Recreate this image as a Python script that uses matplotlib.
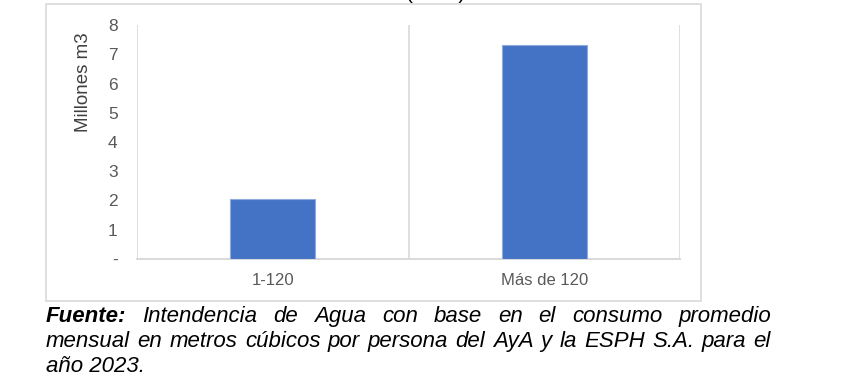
import matplotlib
matplotlib.use('Agg')
import matplotlib.pyplot as plt
from matplotlib.patches import Rectangle

# data
categorias = ['1-120', 'Más de 120']
consumo = [2.05, 7.32]   # millones de m3
yticks = [0, 1, 2, 3, 4, 5, 6, 7, 8]
ytick_labels = ['-', '1', '2', '3', '4', '5', '6', '7', '8']

fuente_lineas = [
    ['Intendencia', 'de', 'Agua', 'con', 'base', 'en', 'el', 'consumo', 'promedio'],
    ['mensual', 'en', 'metros', 'cúbicos', 'por', 'persona', 'del', 'AyA', 'y', 'la', 'ESPH', 'S.A.', 'para', 'el'],
]
fuente_final = 'año 2023.'

plt.rcParams['font.family'] = ['Liberation Sans', 'DejaVu Sans']

W, H = 843, 385
fig = plt.figure(figsize=(W / 100, H / 100), dpi=100)

# chart frame
fig.patches.append(Rectangle((46 / W, 1 - 301 / H), 655 / W, 297 / H,
                             transform=fig.transFigure, fill=False,
                             edgecolor='#D9D9D9', linewidth=1.2))

ax = fig.add_axes([137 / W, 1 - 259 / H, 543 / W, 234 / H])
x = range(len(categorias))
ax.bar(x, consumo, width=0.313, color='#4472C4', edgecolor='#8FAADC', linewidth=0.8, zorder=3)
ax.set_xlim(-0.5, len(categorias) - 0.5)
ax.set_ylim(0, 8)
ax.set_xticks(list(x))
ax.set_xticklabels(categorias, fontsize=12, color='#595959')
ax.set_yticks(yticks)
ax.set_yticklabels(ytick_labels, fontsize=12.5, color='#595959')
ax.set_xticks([-0.5, 0.5, 1.5], minor=True)
ax.grid(which='minor', axis='x', color='#D9D9D9', linewidth=1.2)
ax.tick_params(axis='both', which='both', length=0)
ax.tick_params(axis='y', pad=14)
ax.tick_params(axis='x', pad=10)
for s in ['top', 'right', 'left']:
    ax.spines[s].set_visible(False)
ax.spines['bottom'].set_color('#D9D9D9')
ax.spines['bottom'].set_linewidth(1.4)
ax.set_ylabel('Millones m3', fontsize=13.5, color='#404040')
ax.yaxis.set_label_coords(-(137 - 92) / 543, (259 - 82) / 234)

# title cut off at the top of the image
fig.text(436 / W, 1 + 1 / H, '(2023)', fontsize=15, ha='center', va='baseline', color='black')

# justified source note
left_px, right_px = 46, 771
base_y = [322, 347, 372]
fs = 16
fig.canvas.draw()
renderer = fig.canvas.get_renderer()

for i, palabras in enumerate(fuente_lineas):
    ypos = 1 - base_y[i] / H
    items = []
    if i == 0:
        t = fig.text(0, ypos, 'Fuente:', fontsize=fs, style='italic', weight='bold', va='baseline')
        items.append(t)
    for p in palabras:
        items.append(fig.text(0, ypos, p, fontsize=fs, style='italic', va='baseline'))
    widths = [t.get_window_extent(renderer).width for t in items]
    gap = (right_px - left_px - sum(widths)) / (len(items) - 1)
    xp = left_px
    for t, w in zip(items, widths):
        t.set_x(xp / W)
        xp += w + gap

fig.text(left_px / W, 1 - base_y[2] / H, fuente_final, fontsize=fs, style='italic', va='baseline')

fig.savefig('out.png', dpi=100)
